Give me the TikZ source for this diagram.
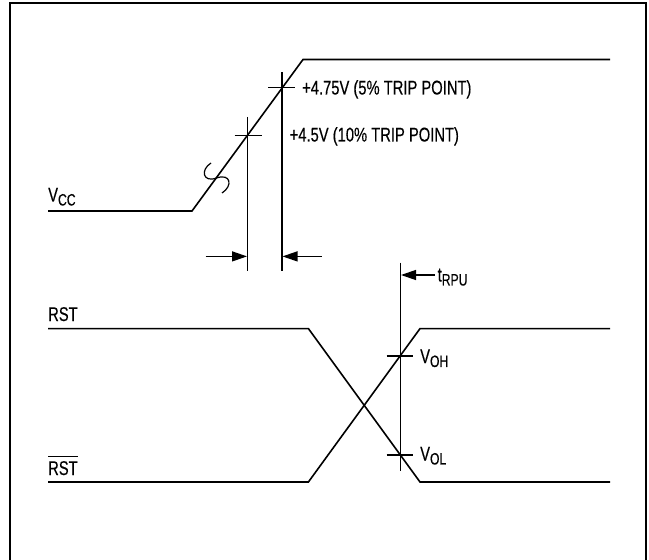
\documentclass[tikz,border=0pt]{standalone}
\usepackage{fontspec}
\newfontfamily\narrowsans[FakeStretch=0.74, FakeBold=0.3]{Liberation Sans}
\usepackage{tikz}
\usetikzlibrary{arrows.meta, positioning}

% lowered index, as on the data sheet
\newcommand{\lowidx}[1]{\raisebox{-4pt}{\fontsize{16.5}{16.5}\selectfont #1}}

\begin{document}
\begin{tikzpicture}[
		x=1bp, y=-1bp,
		% styles
		signal/.style={line width=1.6bp, line join=miter},
		marker/.style={line width=1.1bp},
		pointer/.style={-{Triangle[length=15bp, width=10bp]}, line width=1.3bp},
		lbl/.style={font=\narrowsans\fontsize{20}{22}\selectfont, inner sep=0pt},
	]
	
	\useasboundingbox (0,0) rectangle (649,560);
	
	% cadre
	\draw[line width=2bp] (10,560) -- (10,3) -- (646,3) -- (646,560);
	
	
	% VCC
	\coordinate (vccA) at (48,211);
	\coordinate (vccB) at (192,211);
	\coordinate (vccC) at (303,59.5);
	\coordinate (vccD) at (610,59.5);
	\draw[signal] (vccA) -- (vccB) -- (vccC) -- (vccD);
	\node[lbl, anchor=base west] (vcc) at (48,201.5) {V\lowidx{CC}};
	
	% coupure
	\coordinate (cutA) at (211,163);
	\coordinate (cutM) at (216.5,178);
	\coordinate (cutB) at (222,193);
	\draw[line width=1.2bp] (cutA) .. controls (200,170) and (203,183) .. (cutM)
		.. controls (231,173) and (233,186) .. (cutB);
	
	
	% seuils
	\coordinate (trip10top) at (247.5,117);
	\coordinate (trip10bot) at (247.5,271);
	\coordinate (trip5top) at (282,72.5);
	\coordinate (trip5bot) at (282,271);
	\draw[marker] (trip10top) -- (trip10bot);
	\draw[marker] (trip5top) -- (trip5bot);
	
	\coordinate (tick10L) at (234.7,135.4);
	\coordinate (tick10R) at (261.6,135.4);
	\coordinate (tick5L) at (268,87.6);
	\coordinate (tick5R) at (295,87.6);
	\draw[marker] (tick10L) -- (tick10R);
	\draw[marker] (tick5L) -- (tick5R);
	
	\node[lbl, anchor=base west] (trip5) at (302,94.5) {+4.75V (5\% TRIP POINT)};
	\node[lbl, anchor=base west] (trip10) at (289.5,141.5) {+4.5V (10\% TRIP POINT)};
	
	
	\coordinate (arrL) at (205.7,256.4);
	\coordinate (arrLtip) at (247,256.4);
	\coordinate (arrR) at (321.6,256.4);
	\coordinate (arrRtip) at (282.5,256.4);
	\draw[pointer] (arrL) -- (arrLtip);
	\draw[pointer] (arrR) -- (arrRtip);
	
	
	% RST et RST barre
	\coordinate (rstA) at (48,328.6);
	\coordinate (rstB) at (308.4,328.6);
	\coordinate (rstC) at (420,482);
	\coordinate (rstD) at (610,482);
	\draw[signal] (rstA) -- (rstB) -- (rstC) -- (rstD);
	\node[lbl, anchor=base west] (rst) at (48,321) {RST};
	
	\coordinate (rstbA) at (48,482);
	\coordinate (rstbB) at (308.4,482);
	\coordinate (rstbC) at (420,328.6);
	\coordinate (rstbD) at (610,328.6);
	\draw[signal] (rstbA) -- (rstbB) -- (rstbC) -- (rstbD);
	\node[lbl, anchor=base west] (rstb) at (48,475) {RST};
	\draw[marker] ([yshift=4bp]rstb.north west) -- ([yshift=4bp]rstb.north east);
	
	
	% tRPU
	\coordinate (rputop) at (400.2,262.5);
	\coordinate (rpubot) at (400.2,471);
	\draw[marker] (rputop) -- (rpubot);
	\coordinate (rpuArr) at (435,275);
	\coordinate (rpuTip) at (401,275);
	\draw[pointer] (rpuArr) -- (rpuTip);
	\node[lbl, anchor=base west] (trpu) at (437.5,281.5) {t\lowidx{RPU}};
	
	\coordinate (vohL) at (386.6,356);
	\coordinate (vohR) at (413,356);
	\coordinate (volL) at (386.6,455);
	\coordinate (volR) at (413,455);
	\draw[marker] (vohL) -- (vohR);
	\draw[marker] (volL) -- (volR);
	\node[lbl, anchor=base west] (voh) at (420,363) {V\lowidx{OH}};
	\node[lbl, anchor=base west] (vol) at (420,460.5) {V\lowidx{OL}};
	
\end{tikzpicture}
\end{document}
